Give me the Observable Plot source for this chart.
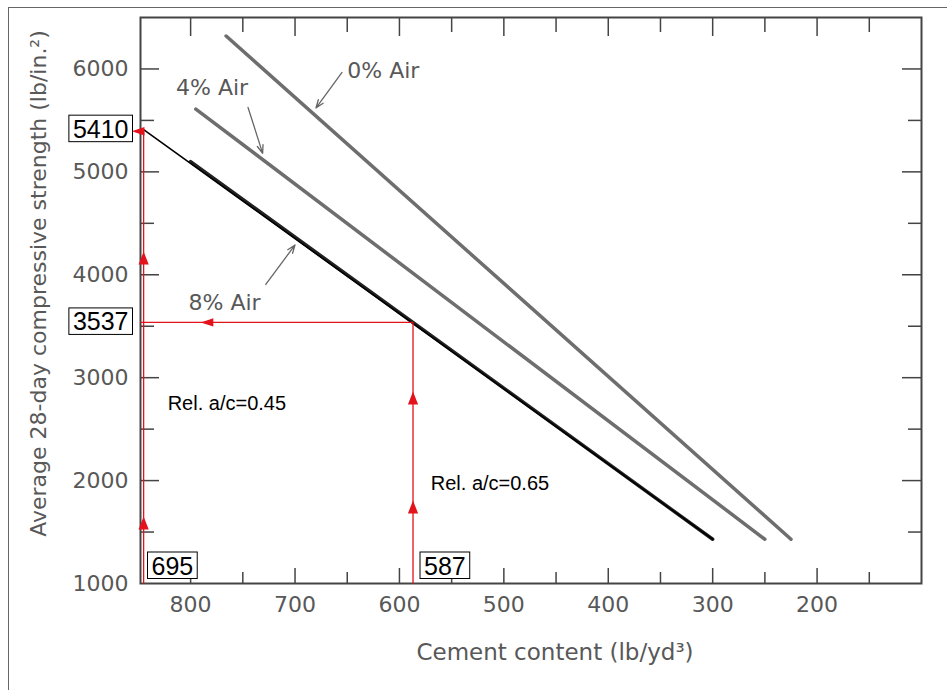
<!DOCTYPE html>
<html><head><meta charset="utf-8">
<script src="https://cdn.jsdelivr.net/npm/d3@7"></script>
<script src="https://cdn.jsdelivr.net/npm/@observablehq/plot@0.6"></script>
<style>
html,body{margin:0;padding:0;background:#fff;}
#wrap{position:relative;width:947px;height:690px;overflow:hidden;}
#border{position:absolute;z-index:2;pointer-events:none;left:8px;top:7px;width:980px;height:720px;border-left:1.5px solid #666;border-top:1.5px solid #666;}
#wrap svg{position:absolute;left:0;top:0;}
</style></head><body><div id="wrap"><div id="border"></div></div>
<script>
// ---- data ----
const air0Cement = [766, 225];
const air0Strength = [6320, 1430];
const air4Cement = [795, 250];
const air4Strength = [5610, 1430];
const air8Cement = [800, 300];
const air8Strength = [5100, 1430];
const traceCement = [845, 300];
const traceStrength = [5410, 1430];

const curveLabelText = ["0% Air", "4% Air", "8% Air"];
const curveLabelCement = [650, 814, 802];
const curveLabelStrength = [5985, 5820, 3731];

const pointerCement1 = [655, 745, 728];
const pointerStrength1 = [5966, 5626, 3906];
const pointerCement2 = [680, 731, 700];
const pointerStrength2 = [5620, 5180, 4290];

const redPathA_Cement = [845, 845];
const redPathA_Strength = [1000, 5410];
const redPathB_Cement = [587, 587, 848];
const redPathB_Strength = [1000, 3537, 3537];

const upArrowCement = [845, 845, 587, 587];
const upArrowStrength = [1583, 4158, 2798, 1739];
const leftArrowCement = [850, 784];
const leftArrowStrength = [5395, 3537];

const boxLeftText = ["5410", "3537"];
const boxLeftStrength = [5410, 3537];
const boxBottomText = ["695", "587"];
const boxBottomCement = [848, 587];

const relText = ["Rel. a/c=0.45", "Rel. a/c=0.65"];
const relCement = [822, 570];
const relStrength = [2749, 1972];

const xMajorTicks = [800, 700, 600, 500, 400, 300, 200];
const xMinorTicks = [750, 650, 550, 450, 350, 250, 150];
const xTickLabels = [800, 700, 600, 500, 400, 300, 200];
const yMajorTicks = [2000, 3000, 4000, 5000, 6000];
const yMinorTicks = [1500, 2500, 3500, 4500, 5500];
const yTickLabels = [1000, 2000, 3000, 4000, 5000, 6000];

const xTitle = "Cement content (lb/yd³)";
const yTitle = "Average 28-day compressive strength (lb/in.²)";

// ---- tables ----
const seg = (cs, ss) => cs.map((c, i) => ({c, s: ss[i]}));
const curveLabels = curveLabelText.map((t, i) => ({t, c: curveLabelCement[i], s: curveLabelStrength[i]}));
const pointers = pointerCement1.map((c, i) => ({c1: c, s1: pointerStrength1[i], c2: pointerCement2[i], s2: pointerStrength2[i]}));
const upArrows = seg(upArrowCement, upArrowStrength);
const leftArrows = seg(leftArrowCement, leftArrowStrength);
const boxLeft = boxLeftText.map((t, i) => ({t, s: boxLeftStrength[i]}));
const boxBottom = boxBottomText.map((t, i) => ({t, c: boxBottomCement[i]}));
const rels = relText.map((t, i) => ({t, c: relCement[i], s: relStrength[i]}));
const boxedSet = new Set([...boxLeftText, ...boxBottomText]);

const upTri = {draw(ctx, size) { const r = Math.sqrt(size / Math.PI); ctx.moveTo(0, -1.15 * r); ctx.lineTo(0.85 * r, r); ctx.lineTo(-0.85 * r, r); ctx.closePath(); }};
const leftTri = {draw(ctx, size) { const r = Math.sqrt(size / Math.PI); ctx.moveTo(-1.1 * r, 0); ctx.lineTo(r, -0.7 * r); ctx.lineTo(r, 0.7 * r); ctx.closePath(); }};

const axisGray = "#444";
const textGray = "#585858";
const lineGray = "#6e6e6e";
const red = "#e3121b";
const sans = "'Liberation Sans', Arial, sans-serif";

const chart = Plot.plot({
  width: 947, height: 690,
  marginLeft: 140, marginRight: 26, marginTop: 17, marginBottom: 107,
  x: {domain: [848, 100], label: null},
  y: {domain: [1000, 6500], label: null},
  style: {fontFamily: "'DejaVu Sans', sans-serif", background: "transparent", overflow: "visible"},
  marks: [
    Plot.axisX(xMajorTicks, {anchor: "bottom", tickSize: -15, text: null, stroke: axisGray, strokeWidth: 1.5, label: null}),
    Plot.axisX(xMinorTicks, {anchor: "bottom", tickSize: -11, text: null, stroke: axisGray, strokeWidth: 1.5, label: null}),
    Plot.axisX(xMajorTicks, {anchor: "top", tickSize: -18, text: null, stroke: axisGray, strokeWidth: 1.5, label: null}),
    Plot.axisX(xMinorTicks, {anchor: "top", tickSize: -14, text: null, stroke: axisGray, strokeWidth: 1.5, label: null}),
    Plot.axisY(yMajorTicks, {anchor: "left", tickSize: -19, text: null, stroke: axisGray, strokeWidth: 1.5, label: null}),
    Plot.axisY(yMinorTicks, {anchor: "left", tickSize: -14, text: null, stroke: axisGray, strokeWidth: 1.5, label: null}),
    Plot.axisY(yMajorTicks, {anchor: "right", tickSize: -20, text: null, stroke: axisGray, strokeWidth: 1.5, label: null}),
    Plot.axisY(yMinorTicks, {anchor: "right", tickSize: -14, text: null, stroke: axisGray, strokeWidth: 1.5, label: null}),
    Plot.axisX(xTickLabels, {anchor: "bottom", tickSize: 0, tickPadding: 13, fontSize: 22, fill: textGray, tickFormat: d => String(d), label: null}),
    Plot.axisY(yTickLabels, {anchor: "left", tickSize: 0, tickPadding: 12, fontSize: 22, fill: textGray, tickFormat: d => String(d), label: null}),
    Plot.frame({stroke: axisGray, strokeWidth: 2}),
    Plot.text([xTitle], {frameAnchor: "bottom", textAnchor: "middle", lineAnchor: "middle", dx: 24, dy: 69, fontSize: 23, fill: textGray}),
    Plot.text([yTitle], {frameAnchor: "left", textAnchor: "middle", lineAnchor: "middle", dx: -102, dy: -17, rotate: -90, fontSize: 22, fill: textGray}),
    Plot.line(seg(air0Cement, air0Strength), {x: "c", y: "s", stroke: lineGray, strokeWidth: 3.5}),
    Plot.line(seg(air4Cement, air4Strength), {x: "c", y: "s", stroke: lineGray, strokeWidth: 3.5}),
    Plot.line(seg(air8Cement, air8Strength), {x: "c", y: "s", stroke: "#222", strokeWidth: 3.5}),
    Plot.line(seg(traceCement, traceStrength), {x: "c", y: "s", stroke: "#000", strokeWidth: 1.6}),
    Plot.text(curveLabels, {x: "c", y: "s", text: "t", textAnchor: "start", fontSize: 22, fill: textGray}),
    Plot.arrow(pointers, {x1: "c1", y1: "s1", x2: "c2", y2: "s2", stroke: "#666", strokeWidth: 1.3, headLength: 10, headAngle: 40}),
    Plot.line(seg(redPathA_Cement, redPathA_Strength), {x: "c", y: "s", stroke: red, strokeWidth: 1.3, strokeLinecap: "butt"}),
    Plot.line(seg(redPathB_Cement, redPathB_Strength), {x: "c", y: "s", stroke: red, strokeWidth: 1.3, strokeLinecap: "butt", strokeLinejoin: "miter"}),
    Plot.dot(upArrows, {x: "c", y: "s", symbol: upTri, r: 6, fill: red, stroke: null}),
    Plot.dot(leftArrows, {x: "c", y: "s", symbol: leftTri, r: 6, fill: red, stroke: null}),
    Plot.text(rels, {x: "c", y: "s", text: "t", textAnchor: "start", fontSize: 20, fill: "#000", fontFamily: sans}),
    Plot.text(boxLeft, {x: () => 848, y: "s", text: "t", textAnchor: "end", dx: -12, fontSize: 25, fill: "#000", fontFamily: sans}),
    Plot.text(boxBottom, {x: "c", y: () => 1000, text: "t", textAnchor: "start", dx: 11, dy: -17, fontSize: 25, fill: "#000", fontFamily: sans})
  ]
});
document.getElementById("wrap").appendChild(chart);

// white boxes with black borders behind the boxed labels
chart.querySelectorAll("text").forEach(t => {
  if (!boxedSet.has(t.textContent.trim())) return;
  const bb = t.getBBox();
  const r = document.createElementNS("http://www.w3.org/2000/svg", "rect");
  r.setAttribute("x", bb.x - 4);
  r.setAttribute("y", bb.y + 0.5);
  r.setAttribute("width", bb.width + 8);
  r.setAttribute("height", bb.height - 1.5);
  r.setAttribute("fill", "#fff");
  r.setAttribute("stroke", "#000");
  r.setAttribute("stroke-width", "1");
  if (t.getAttribute("transform")) r.setAttribute("transform", t.getAttribute("transform"));
  t.parentNode.insertBefore(r, t);
});
</script>
</body></html>
